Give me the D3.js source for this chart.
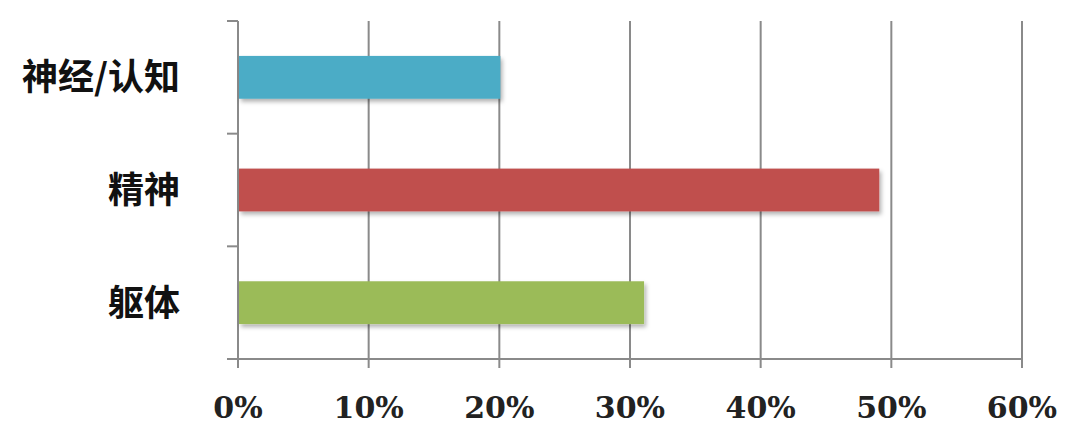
<!DOCTYPE html>
<html>
<head>
<meta charset="utf-8">
<style>
  body { margin: 0; background: #fff; }
  .ylab { font-family: "Noto Sans CJK SC", sans-serif; font-weight: bold; font-size: 36px; fill: #111; }
  .xlab { font-family: "DejaVu Serif", serif; font-weight: bold; font-size: 30px; fill: #222; }
</style>
</head>
<body>
<svg id="chart" width="1080" height="433"></svg>
<script src="https://cdn.jsdelivr.net/npm/d3@7"></script>
<script>
var categories = ["神经/认知", "精神", "躯体"];
var values = [0.20, 0.49, 0.31];
var colors = ["#4BACC6", "#C0504D", "#9BBB59"];
var xTicks = [0, 0.1, 0.2, 0.3, 0.4, 0.5, 0.6];

var svg = d3.select("#chart");
var mLeft = 238, mRight = 1022, mTop = 21, mBottom = 359;

var x = d3.scaleLinear().domain([0, 0.6]).range([mLeft, mRight]);
var y = d3.scaleBand().domain(categories).range([mTop, mBottom]).paddingInner(0.62).paddingOuter(0.31);

var defs = svg.append("defs");
var f = defs.append("filter").attr("id", "shadow").attr("x", "-5%").attr("y", "-20%").attr("width", "115%").attr("height", "160%");
f.append("feDropShadow").attr("dx", 2).attr("dy", 3).attr("stdDeviation", 2).attr("flood-color", "#000").attr("flood-opacity", 0.3);

// vertical grid lines
svg.append("g").selectAll("line")
  .data(xTicks.slice(1))
  .enter().append("line")
  .attr("x1", d => x(d)).attr("x2", d => x(d))
  .attr("y1", mTop).attr("y2", mBottom + 9)
  .attr("stroke", "#8a8a8a").attr("stroke-width", 2);

// y axis line and ticks
svg.append("line").attr("x1", mLeft).attr("x2", mLeft).attr("y1", mTop).attr("y2", mBottom + 9)
  .attr("stroke", "#8a8a8a").attr("stroke-width", 2);
var yBounds = [mTop].concat(categories.map(c => y(c) + y.bandwidth() + y.step() * y.paddingInner() / 2));
yBounds[yBounds.length - 1] = mBottom;
svg.append("g").selectAll("line")
  .data(yBounds)
  .enter().append("line")
  .attr("x1", mLeft - 11).attr("x2", mLeft)
  .attr("y1", d => d).attr("y2", d => d)
  .attr("stroke", "#8a8a8a").attr("stroke-width", 2);

// x axis line
svg.append("line").attr("x1", mLeft - 11).attr("x2", mRight).attr("y1", mBottom).attr("y2", mBottom)
  .attr("stroke", "#8a8a8a").attr("stroke-width", 2);

// bars
svg.append("g").selectAll("rect")
  .data(values)
  .enter().append("rect")
  .attr("x", x(0) + 1)
  .attr("y", (d, i) => y(categories[i]))
  .attr("width", d => x(d) - x(0))
  .attr("height", y.bandwidth())
  .attr("fill", (d, i) => colors[i])
  .attr("filter", "url(#shadow)");

// category labels
svg.append("g").selectAll("text")
  .data(categories)
  .enter().append("text")
  .attr("class", "ylab")
  .attr("x", 180)
  .attr("y", d => y(d) + y.bandwidth() / 2)
  .attr("dy", "0.36em")
  .attr("text-anchor", "end")
  .text(d => d);

// x tick labels
svg.append("g").selectAll("text")
  .data(xTicks)
  .enter().append("text")
  .attr("class", "xlab")
  .attr("x", d => x(d))
  .attr("y", 418)
  .attr("text-anchor", "middle")
  .text(d => d3.format(".0%")(d));
</script>
</body>
</html>
